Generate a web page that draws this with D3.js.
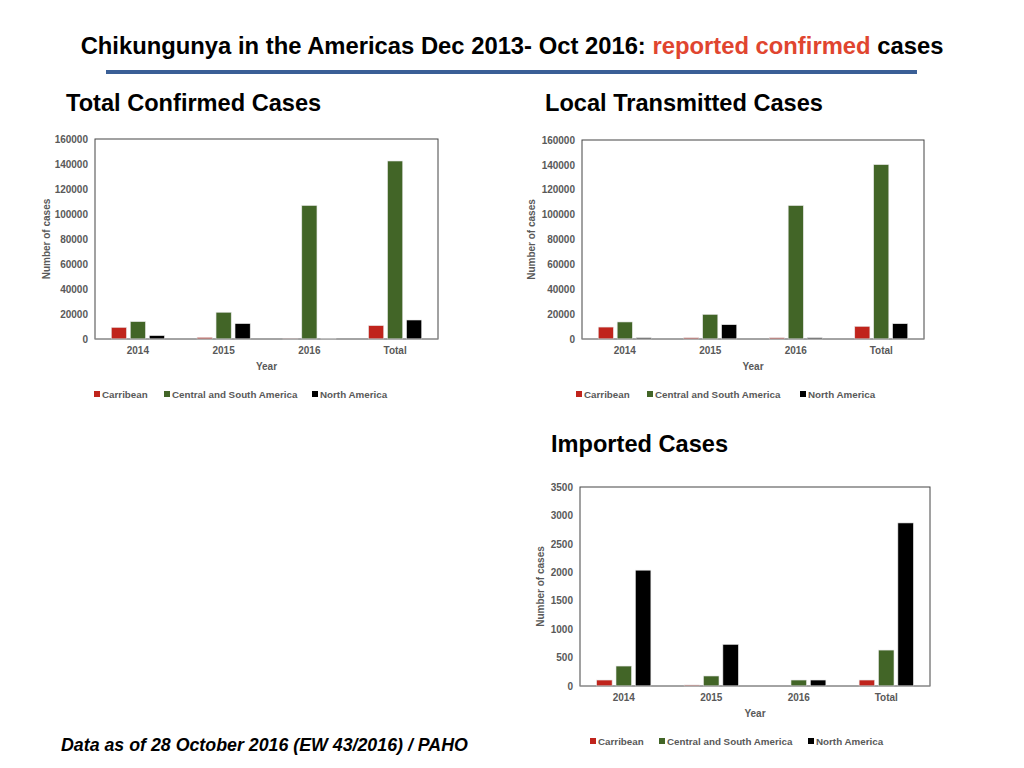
<!DOCTYPE html>
<html>
<head>
<meta charset="utf-8">
<script src="https://cdn.jsdelivr.net/npm/d3@7"></script>
<style>
  body { margin: 0; background: #fff; }
  svg { font-family: "Liberation Sans", Arial, Helvetica, sans-serif; }
</style>
</head>
<body>
<div id="container"></div>
<script>
// categories and series
let years = ["2014", "2015", "2016", "Total"];
let seriesNames = ["Carribean", "Central and South America", "North America"];
let seriesColors = ["#c0241c", "#426527", "#000000"];

// Total confirmed cases
let totalCarib = [9300, 1300, 200, 10700];
let totalCSA = [13900, 21400, 106800, 142400];
let totalNA = [2700, 12300, 300, 15200];

// Local transmitted cases
let localCarib = [9600, 1000, 1000, 10200];
let localCSA = [13700, 19800, 107300, 140200];
let localNA = [1000, 11500, 1000, 12300];

// Imported cases
let importCarib = [105, 18, 0, 105];
let importCSA = [351, 176, 105, 632];
let importNA = [2037, 732, 105, 2868];

// y ticks
let bigTicks = [0, 20000, 40000, 60000, 80000, 100000, 120000, 140000, 160000];
let smallTicks = [0, 500, 1000, 1500, 2000, 2500, 3000, 3500];

let svg = d3.select("#container")
    .append("svg")
    .attr("width", 1024)
    .attr("height", 768);

// main title
let title = svg.append("text")
    .attr("x", 512)
    .attr("y", 54)
    .attr("text-anchor", "middle")
    .attr("font-size", 23.8)
    .attr("font-weight", "bold")
    .attr("fill", "#000");
title.append("tspan").text("Chikungunya in the Americas Dec 2013- Oct 2016: ");
title.append("tspan").attr("fill", "#e0452f").text("reported confirmed");
title.append("tspan").text(" cases");

svg.append("line")
    .attr("x1", 106).attr("x2", 917)
    .attr("y1", 72).attr("y2", 72)
    .attr("stroke", "#3a5f96")
    .attr("stroke-width", 4);

// footer
svg.append("text")
    .attr("x", 61)
    .attr("y", 751)
    .attr("font-size", 17.8)
    .attr("font-weight", "bold")
    .attr("font-style", "italic")
    .text("Data as of 28 October 2016 (EW 43/2016) / PAHO");

function drawChart(opt) {
    let g = svg.append("g");

    // panel heading
    svg.append("text")
        .attr("x", opt.titleX)
        .attr("y", opt.titleY)
        .attr("font-size", 23.6)
        .attr("font-weight", "bold")
        .text(opt.title);

    let x = d3.scaleBand()
        .domain(years)
        .range([opt.left, opt.right]);

    let inner = d3.scaleBand()
        .domain(seriesNames)
        .range([x.bandwidth() * 0.19, x.bandwidth() * 0.81])
        .paddingInner(0.2);

    let y = d3.scaleLinear()
        .domain([0, opt.ticks[opt.ticks.length - 1]])
        .range([opt.bottom, opt.top]);

    // frame
    g.append("rect")
        .attr("x", opt.left)
        .attr("y", opt.top)
        .attr("width", opt.right - opt.left)
        .attr("height", opt.bottom - opt.top)
        .attr("fill", "none")
        .attr("stroke", "#444")
        .attr("stroke-width", 1);

    // bars
    let rows = years.map((yr, i) => ({
        year: yr,
        values: opt.series.map((s, j) => ({ name: seriesNames[j], value: s[i], color: seriesColors[j] }))
    }));

    g.selectAll("g.grp")
        .data(rows)
        .enter()
        .append("g")
        .attr("class", "grp")
        .attr("transform", d => "translate(" + x(d.year) + ",0)")
        .selectAll("rect")
        .data(d => d.values)
        .enter()
        .append("rect")
        .attr("x", d => inner(d.name))
        .attr("width", inner.bandwidth())
        .attr("y", d => y(d.value))
        .attr("height", d => opt.bottom - y(d.value))
        .attr("fill", d => d.color)
        .attr("stroke", "#e6e6e6")
        .attr("stroke-width", 0.6);

    // baseline
    g.append("line")
        .attr("x1", opt.left).attr("x2", opt.right)
        .attr("y1", opt.bottom).attr("y2", opt.bottom)
        .attr("stroke", "#a6a6a6")
        .attr("stroke-width", 1.2);

    // y axis
    let yAxis = g.append("g")
        .attr("transform", "translate(" + opt.left + ",0)")
        .call(d3.axisLeft(y).tickValues(opt.ticks).tickSize(0).tickPadding(7).tickFormat(d3.format("d")));
    yAxis.select(".domain").remove();
    yAxis.selectAll("text")
        .attr("font-size", 10)
        .attr("font-weight", "bold")
        .attr("fill", "#595959")
        .attr("font-family", "Liberation Sans, Arial, sans-serif");

    // x axis
    let xAxis = g.append("g")
        .attr("transform", "translate(0," + opt.bottom + ")")
        .call(d3.axisBottom(x).tickSize(0).tickPadding(8));
    xAxis.select(".domain").remove();
    xAxis.selectAll("text")
        .attr("font-size", 10)
        .attr("font-weight", "bold")
        .attr("fill", "#595959")
        .attr("font-family", "Liberation Sans, Arial, sans-serif");

    // axis titles
    g.append("text")
        .attr("x", (opt.left + opt.right) / 2)
        .attr("y", opt.bottom + 31)
        .attr("text-anchor", "middle")
        .attr("font-size", 10)
        .attr("font-weight", "bold")
        .attr("fill", "#595959")
        .text("Year");

    g.append("text")
        .attr("transform", "translate(" + opt.yLabelX + "," + (opt.top + opt.bottom) / 2 + ") rotate(-90)")
        .attr("text-anchor", "middle")
        .attr("font-size", 10)
        .attr("font-weight", "bold")
        .attr("fill", "#595959")
        .text("Number of cases");

    // legend
    let leg = g.selectAll("g.leg")
        .data(seriesNames)
        .enter()
        .append("g")
        .attr("class", "leg")
        .attr("transform", (d, i) => "translate(" + opt.legendX[i] + "," + opt.legendY + ")");
    leg.append("rect")
        .attr("x", 0).attr("y", -7)
        .attr("width", 6).attr("height", 6)
        .attr("fill", (d, i) => seriesColors[i]);
    leg.append("text")
        .attr("x", 8)
        .attr("y", 0)
        .attr("font-size", 9.8)
        .attr("font-weight", "bold")
        .attr("fill", "#595959")
        .text(d => d);
}

drawChart({
    title: "Total Confirmed Cases", titleX: 66, titleY: 111,
    left: 95, right: 438, top: 139, bottom: 339,
    ticks: bigTicks, series: [totalCarib, totalCSA, totalNA],
    yLabelX: 50, legendX: [94, 164, 312], legendY: 398
});

drawChart({
    title: "Local Transmitted Cases", titleX: 545, titleY: 111,
    left: 582, right: 924, top: 140, bottom: 339,
    ticks: bigTicks, series: [localCarib, localCSA, localNA],
    yLabelX: 535, legendX: [576, 647, 800], legendY: 398
});

drawChart({
    title: "Imported Cases", titleX: 551, titleY: 452,
    left: 580, right: 930, top: 487, bottom: 686,
    ticks: smallTicks, series: [importCarib, importCSA, importNA],
    yLabelX: 544, legendX: [590, 659, 808], legendY: 745
});
</script>
</body>
</html>
